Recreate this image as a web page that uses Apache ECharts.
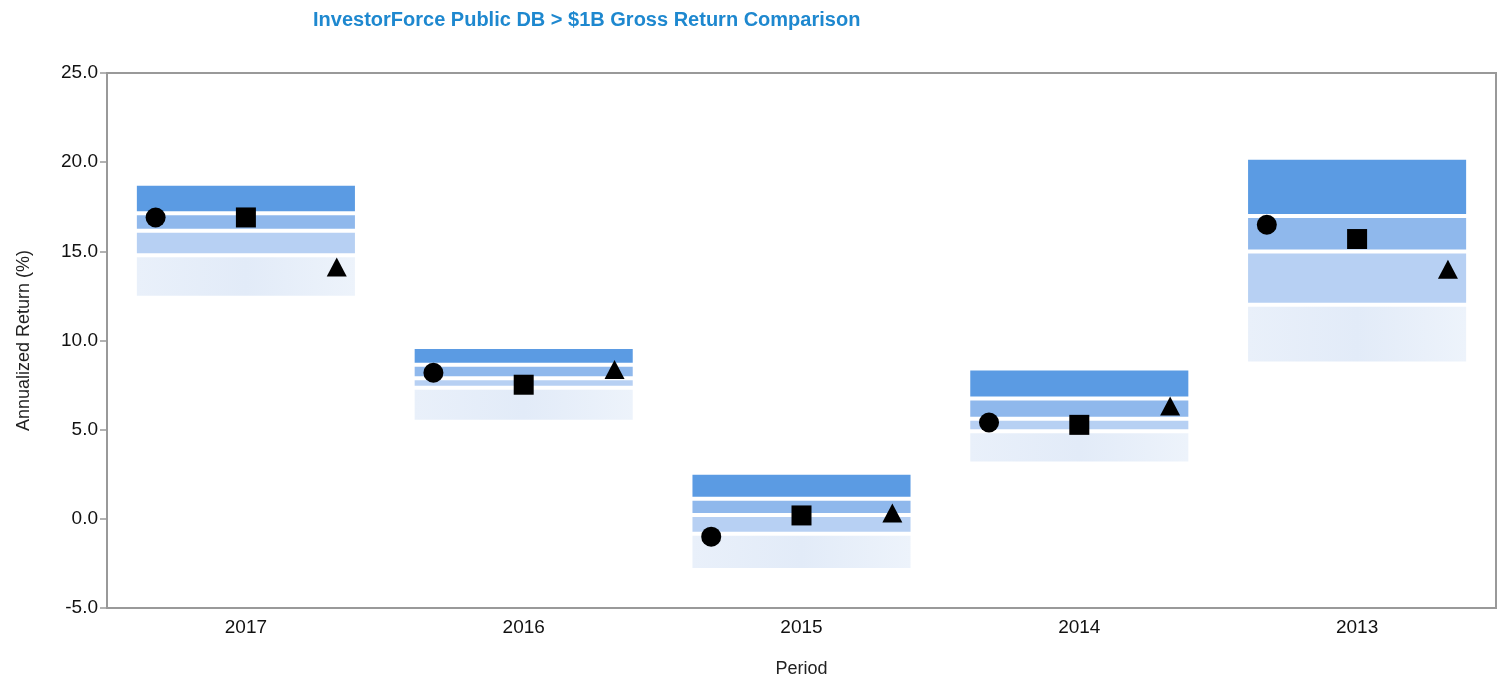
<!DOCTYPE html>
<html>
<head>
<meta charset="utf-8">
<script src="https://cdn.jsdelivr.net/npm/echarts@6/dist/echarts.min.js"></script>
<style>html,body{margin:0;padding:0;background:#fff}#c{width:1504px;height:683px}</style>
</head>
<body>
<div id="c"></div>
<script>
const periods = ['2017', '2016', '2015', '2014', '2013'];
// percentile boundaries: 5th, 25th, median, 75th, 95th
const p5  = [18.68, 9.53, 2.47, 8.32, 20.13];
const p25 = [17.13, 8.64, 1.12, 6.75, 16.98];
const p50 = [16.15, 7.88, 0.22, 5.61, 14.99];
const p75 = [14.78, 7.35, -0.84, 4.91, 12.00];
const p95 = [12.51, 5.55, -2.75, 3.21, 8.82];
// markers
const circleVals   = [16.90, 8.19, -1.00, 5.40, 16.49];
const squareVals   = [16.90, 7.52, 0.19, 5.27, 15.69];
const triangleVals = [14.10, 8.35, 0.30, 6.30, 13.97];
const yTicks = [-5, 0, 5, 10, 15, 20, 25];

const bandColors = ['#5b9be3', '#8fb8ec', '#b7d0f3', '#e4edf9'];
const FONT = '"Liberation Sans", Arial, sans-serif';

const bandData = periods.map((p, i) => [i, p5[i], p25[i], p50[i], p75[i], p95[i]]);

function renderBands(params, api) {
  const idx = api.value(0);
  const size = api.size([1, 0]);
  const bw = size[0] * 0.785;
  const c = api.coord([idx, 0]);
  const x0 = c[0] - bw / 2;
  const vals = [api.value(1), api.value(2), api.value(3), api.value(4), api.value(5)];
  const children = [];
  for (let k = 0; k < 4; k++) {
    const yTop = api.coord([idx, vals[k]])[1];
    const yBot = api.coord([idx, vals[k + 1]])[1];
    const gapTop = k === 0 ? 0 : 2;
    const gapBot = k === 3 ? 0 : 2;
    let fill = bandColors[k];
    if (k === 3) {
      fill = new echarts.graphic.LinearGradient(0, 0, 1, 0, [
        {offset: 0, color: '#e9f0fa'},
        {offset: 0.5, color: '#e2ebf8'},
        {offset: 1, color: '#edf3fb'}
      ]);
    }
    children.push({
      type: 'rect',
      shape: {x: x0, y: yTop + gapTop, width: bw, height: yBot - yTop - gapTop - gapBot},
      style: {fill: fill}
    });
  }
  return {type: 'group', children: children};
}

function markerRenderer(kind, offsetFrac) {
  return function (params, api) {
    const idx = api.value(0);
    const size = api.size([1, 0]);
    const p = api.coord([idx, api.value(1)]);
    const x = p[0] + offsetFrac * size[0];
    const y = p[1];
    const r = 10;
    if (kind === 'circle') {
      return {type: 'circle', shape: {cx: x, cy: y, r: r}, style: {fill: '#000'}};
    } else if (kind === 'square') {
      return {type: 'rect', shape: {x: x - r, y: y - r, width: 2 * r, height: 2 * r}, style: {fill: '#000'}};
    } else {
      return {type: 'polygon', shape: {points: [[x, y - r], [x + r, y + 9], [x - r, y + 9]]}, style: {fill: '#000'}};
    }
  };
}

const chart = echarts.init(document.getElementById('c'), null, {renderer: 'canvas'});
chart.setOption({
  animation: false,
  backgroundColor: '#fff',
  title: {
    text: 'InvestorForce Public DB > $1B Gross Return Comparison',
    left: 308, top: 5,
    textStyle: {color: '#1e88cf', fontSize: 20, fontWeight: 'bold', fontFamily: FONT}
  },
  grid: {left: 107, right: 8, top: 73, bottom: 75, outerBoundsMode: 'none', containLabel: false,
    show: true, borderColor: '#999', borderWidth: 2, backgroundColor: 'transparent'},
  xAxis: {
    type: 'category',
    data: periods,
    name: 'Period',
    nameLocation: 'middle',
    nameGap: 52,
    nameTextStyle: {color: '#222', fontSize: 18, fontFamily: FONT},
    axisLine: {show: false},
    axisTick: {show: false},
    axisLabel: {color: '#111', fontSize: 19, margin: 10, fontFamily: FONT},
    splitLine: {show: false}
  },
  yAxis: {
    type: 'value',
    min: -5, max: 25, interval: 5,
    name: 'Annualized Return (%)',
    nameLocation: 'middle',
    nameGap: 74,
    nameRotate: 90,
    nameTextStyle: {color: '#222', fontSize: 18, fontFamily: FONT},
    axisLine: {show: false},
    axisTick: {show: true, length: 7, inside: false, lineStyle: {color: '#999', width: 1.5}},
    axisLabel: {color: '#111', fontSize: 19, margin: 9, fontFamily: FONT,
      formatter: v => yTicks.includes(v) ? v.toFixed(1) : ''},
    splitLine: {show: false}
  },
  series: [
    {type: 'custom', renderItem: renderBands, data: bandData, encode: {x: 0, y: [1, 2, 3, 4, 5]}, z: 2},
    {type: 'custom', renderItem: markerRenderer('circle', -0.325), data: circleVals.map((v, i) => [i, v]), encode: {x: 0, y: 1}, z: 5},
    {type: 'custom', renderItem: markerRenderer('square', 0), data: squareVals.map((v, i) => [i, v]), encode: {x: 0, y: 1}, z: 5},
    {type: 'custom', renderItem: markerRenderer('triangle', 0.327), data: triangleVals.map((v, i) => [i, v]), encode: {x: 0, y: 1}, z: 5}
  ]
});
</script>
</body>
</html>
